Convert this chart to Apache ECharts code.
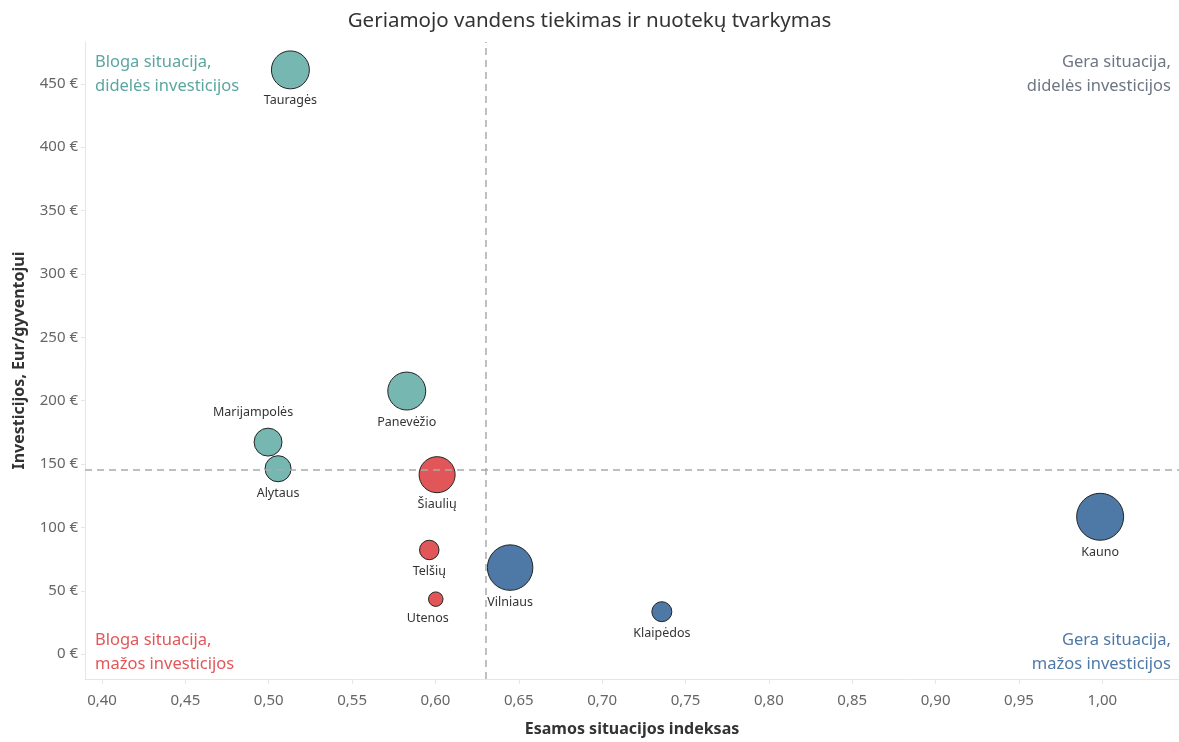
<!DOCTYPE html>
<html>
<head>
<meta charset="utf-8">
<script src="https://cdn.jsdelivr.net/npm/echarts@6/dist/echarts.min.js"></script>
<style>
html,body{margin:0;padding:0;background:#fff;}
#chart{width:1179px;height:742px;}
</style>
</head>
<body>
<div id="chart"></div>
<script>
// ---- data ----
var regions = ['Tauragės','Marijampolės','Alytaus','Panevėžio','Šiaulių','Telšių','Utenos','Vilniaus','Klaipėdos','Kauno'];
var indeksas = [0.513, 0.4996, 0.5056, 0.5828, 0.601, 0.5963, 0.6002, 0.6448, 0.7358, 0.9987];
var investicijos = [461, 167.3, 146.3, 207.6, 141.6, 82.2, 43.4, 68.3, 33.5, 108.4];
var dydis = [144, 78, 68, 144, 130, 38, 21, 207, 40, 221];
var grupe = ['blogaDid','blogaDid','blogaDid','blogaDid','blogaMaz','blogaMaz','blogaMaz','gera','gera','gera'];
var vidurkisX = 0.627;
var vidurkisY = 145.5;
var xTicks = [0.40,0.45,0.50,0.55,0.60,0.65,0.70,0.75,0.80,0.85,0.90,0.95,1.00];
var yTicks = [0,50,100,150,200,250,300,350,400,450];
var kampai = [
  ['Bloga situacija,','didelės investicijos'],
  ['Gera situacija,','didelės investicijos'],
  ['Bloga situacija,','mažos investicijos'],
  ['Gera situacija,','mažos investicijos']
];

var colors = {blogaDid:'#76b7b2', blogaMaz:'#e15759', gera:'#4e79a7'};
var FONT = '"Noto Sans", "Open Sans", sans-serif';

var labelPos = {
  'Marijampolės': {position:'top', offset:[-15,-4]},
  'Utenos': {position:'bottom', offset:[-8,0]}
};

var points = regions.map(function(r,i){
  var lp = labelPos[r] || {position:'bottom', offset:[0,0]};
  return {
    name: r,
    value: [indeksas[i], investicijos[i], dydis[i]],
    symbolSize: Math.sqrt(dydis[i]*10),
    itemStyle: {color: colors[grupe[i]]},
    label: {position: lp.position, offset: lp.offset}
  };
});

function cornerText(lines, color, side, top){
  var out = [];
  lines.forEach(function(t, k){
    var el = {type:'text', top: top + k*24, style:{text:t, fill:color, font:'16.5px '+FONT}};
    if (side === 'left') el.left = 95; else el.right = 8;
    out.push(el);
  });
  return out;
}

var chart = echarts.init(document.getElementById('chart'));
chart.setOption({
  animation:false,
  title:{
    text:'Geriamojo vandens tiekimas ir nuotekų tvarkymas',
    left:'center', top:6,
    textStyle:{fontFamily:FONT, fontSize:20.5, fontWeight:'normal', color:'#333'}
  },
  grid:{left:85, right:0, top:42, bottom:57},
  xAxis:{
    type:'value', min:0.3898, max:1.046,
    name:'Esamos situacijos indeksas', nameLocation:'middle', nameGap:42,
    nameTextStyle:{fontFamily:FONT, fontSize:16, fontWeight:'bold', color:'#333'},
    axisLine:{show:true, onZero:false, lineStyle:{color:'#e6e6e6'}},
    axisTick:{show:true, length:5, lineStyle:{color:'#e6e6e6'}, customValues:xTicks},
    axisLabel:{customValues:xTicks, margin:14, fontFamily:FONT, fontSize:15, color:'#666',
      formatter:function(v){return v.toFixed(2).replace('.',',');}},
    splitLine:{show:false}
  },
  yAxis:{
    type:'value', min:-19.6, max:483,
    name:'Investicijos, Eur/gyventojui', nameLocation:'middle', nameGap:58,
    nameTextStyle:{fontFamily:FONT, fontSize:16, fontWeight:'bold', color:'#333'},
    axisLine:{show:true, onZero:false, lineStyle:{color:'#e6e6e6'}},
    axisTick:{show:true, length:4, lineStyle:{color:'#e6e6e6'}, customValues:yTicks},
    axisLabel:{customValues:yTicks, margin:7, fontFamily:FONT, fontSize:15, color:'#666',
      formatter:function(v){return Math.round(v)+' €';}},
    splitLine:{show:false}
  },
  series:[{
    type:'scatter',
    data: points,
    itemStyle:{borderColor:'#222', borderWidth:1, opacity:1},
    label:{show:true, formatter:'{b}', fontFamily:FONT, fontSize:12.5, color:'#333', distance:5},
    markLine:{
      silent:true, symbol:'none',
      label:{show:false},
      lineStyle:{color:'#aaa', type:[7,5], width:1.5},
      data:[{xAxis:vidurkisX},{yAxis:vidurkisY}]
    },
    z:3
  }],
  graphic: []
    .concat(cornerText(kampai[0], '#5ba6a0', 'left', 54))
    .concat(cornerText(kampai[1], '#6e7683', 'right', 54))
    .concat(cornerText(kampai[2], '#e15759', 'left', 632))
    .concat(cornerText(kampai[3], '#4e79a7', 'right', 632))
});
</script>
</body>
</html>
